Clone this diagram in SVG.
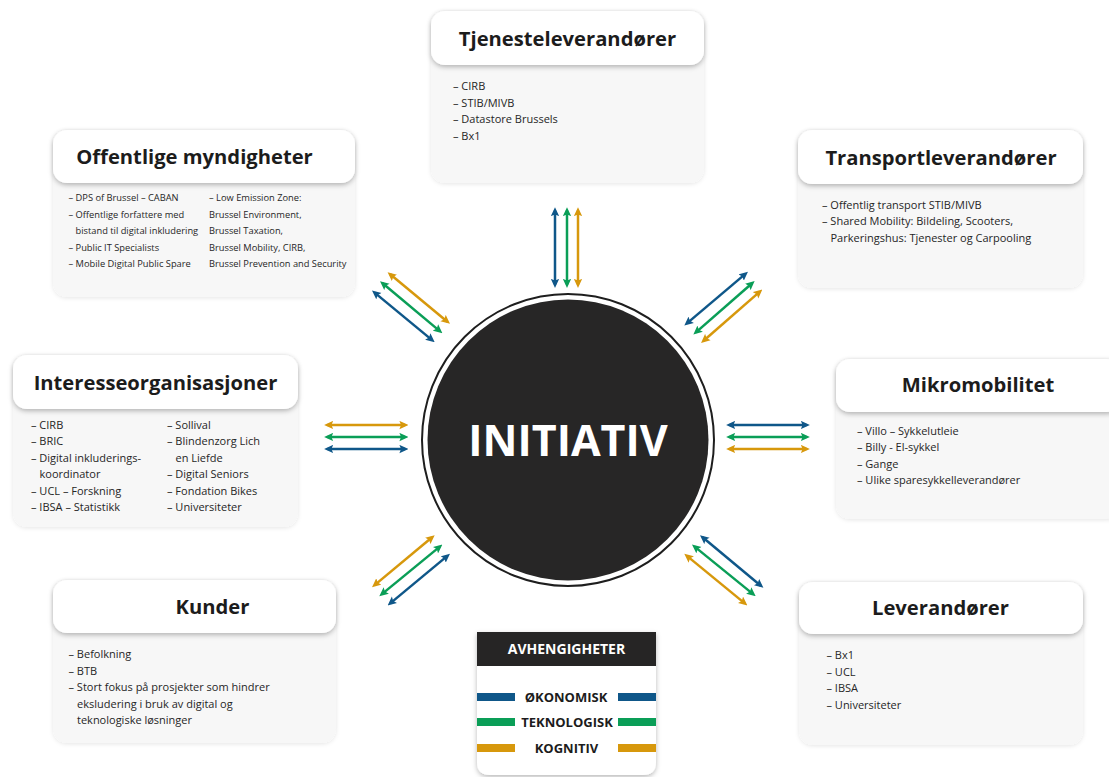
<svg xmlns="http://www.w3.org/2000/svg" width="1109" height="777" viewBox="0 0 1109 777">
  <defs>
    <filter id="hdrShadow" x="-10%" y="-30%" width="120%" height="170%">
      <feDropShadow dx="0" dy="2" stdDeviation="2.5" flood-color="#000" flood-opacity="0.28"/>
    </filter>
    <filter id="cardShadow" x="-10%" y="-10%" width="120%" height="120%">
      <feDropShadow dx="0" dy="1" stdDeviation="2" flood-color="#000" flood-opacity="0.10"/>
    </filter>
    <marker id="ahBlue" viewBox="0 0 8 8" refX="5" refY="4" markerWidth="9" markerHeight="9" markerUnits="userSpaceOnUse" orient="auto-start-reverse">
      <path d="M0,0.3 L8,4 L0,7.7 L1.5,4 z" fill="#0f5789"/>
    </marker>
    <marker id="ahGreen" viewBox="0 0 8 8" refX="5" refY="4" markerWidth="9" markerHeight="9" markerUnits="userSpaceOnUse" orient="auto-start-reverse">
      <path d="M0,0.3 L8,4 L0,7.7 L1.5,4 z" fill="#0a9e57"/>
    </marker>
    <marker id="ahGold" viewBox="0 0 8 8" refX="5" refY="4" markerWidth="9" markerHeight="9" markerUnits="userSpaceOnUse" orient="auto-start-reverse">
      <path d="M0,0.3 L8,4 L0,7.7 L1.5,4 z" fill="#d7980c"/>
    </marker>
  </defs>
  <style>
    .body { fill: #f7f7f7; filter: url(#cardShadow); }
    .hdr { fill: #ffffff; filter: url(#hdrShadow); }
    .title { font-family: "Open Sans", "Liberation Sans", sans-serif; font-weight: 700; font-size: 20.2px; fill: #1c1c1c; }
    .item { font-family: "Open Sans", "Liberation Sans", sans-serif; font-size: 11px; fill: #262626; }
    .small { font-size: 9.3px; }
    .blue { stroke: #0f5789; marker-start: url(#ahBlue); marker-end: url(#ahBlue); }
    .green { stroke: #0a9e57; marker-start: url(#ahGreen); marker-end: url(#ahGreen); }
    .gold { stroke: #d7980c; marker-start: url(#ahGold); marker-end: url(#ahGold); }
    #connectors line { stroke-width: 2.5; fill: none; }
    .leg { font-family: "Open Sans", "Liberation Sans", sans-serif; font-weight: 700; font-size: 13px; fill: #1c1c1c; text-anchor: middle; }
  </style>

  <rect width="1109" height="777" fill="#ffffff"/>

  <!-- central hub -->
  <g id="initiativ">
    <circle cx="568" cy="440" r="146" fill="none" stroke="#1e1e1e" stroke-width="2"/>
    <circle cx="568" cy="440" r="140.5" fill="#272626"/>
    <text x="568" y="456" text-anchor="middle" font-family="Open Sans, Liberation Sans, sans-serif" font-weight="700" font-size="43" fill="#ffffff">INITIATIV</text>
  </g>

  <!-- Tjenesteleverandører -->
  <g id="tjenesteleverandorer">
    <rect class="body" x="431" y="11" width="273" height="172" rx="14"/>
    <rect class="hdr" x="431" y="11" width="273" height="54" rx="14"/>
    <text class="title" x="567.5" y="45.5" text-anchor="middle">Tjenesteleverandører</text>
    <text class="item" x="453" y="90">– CIRB</text>
    <text class="item" x="453" y="106.5">– STIB/MIVB</text>
    <text class="item" x="453" y="123">– Datastore Brussels</text>
    <text class="item" x="453" y="139.5">– Bx1</text>
  </g>

  <!-- Offentlige myndigheter -->
  <g id="offentlige-myndigheter">
    <rect class="body" x="53" y="130" width="302" height="167" rx="14"/>
    <rect class="hdr" x="53" y="130" width="302" height="53" rx="14"/>
    <text class="title" x="194.5" y="163.5" text-anchor="middle">Offentlige myndigheter</text>
    <text class="item small" x="68.5" y="201">– DPS of Brussel – CABAN</text>
    <text class="item small" x="68.5" y="217.5">– Offentlige forfattere med</text>
    <text class="item small" x="75.5" y="234">bistand til digital inkludering</text>
    <text class="item small" x="68.5" y="250.5">– Public IT Specialists</text>
    <text class="item small" x="68.5" y="267">– Mobile Digital Public Spare</text>
    <text class="item small" x="209" y="201">– Low Emission Zone:</text>
    <text class="item small" x="209" y="217.5">Brussel Environment,</text>
    <text class="item small" x="209" y="234">Brussel Taxation,</text>
    <text class="item small" x="209" y="250.5">Brussel Mobility, CIRB,</text>
    <text class="item small" x="209" y="267">Brussel Prevention and Security</text>
  </g>

  <!-- Transportleverandører -->
  <g id="transportleverandorer">
    <rect class="body" x="798" y="130" width="285" height="158" rx="14"/>
    <rect class="hdr" x="798" y="130" width="285" height="54" rx="14"/>
    <text class="title" x="941" y="165" text-anchor="middle">Transportleverandører</text>
    <text class="item" x="822" y="208.5">– Offentlig transport STIB/MIVB</text>
    <text class="item" x="822" y="225">– Shared Mobility: Bildeling, Scooters,</text>
    <text class="item" x="830.5" y="241.5">Parkeringshus: Tjenester og Carpooling</text>
  </g>

  <!-- Interesseorganisasjoner -->
  <g id="interesseorganisasjoner">
    <rect class="body" x="13" y="355" width="285" height="172" rx="14"/>
    <rect class="hdr" x="13" y="355" width="285" height="54" rx="14"/>
    <text class="title" x="155.5" y="389.5" text-anchor="middle">Interesseorganisasjoner</text>
    <text class="item" x="31" y="429">– CIRB</text>
    <text class="item" x="31" y="445.4">– BRIC</text>
    <text class="item" x="31" y="461.8">– Digital inkluderings-</text>
    <text class="item" x="39.5" y="478.2">koordinator</text>
    <text class="item" x="31" y="494.6">– UCL – Forskning</text>
    <text class="item" x="31" y="511">– IBSA – Statistikk</text>
    <text class="item" x="167" y="429">– Sollival</text>
    <text class="item" x="167" y="445.4">– Blindenzorg Lich</text>
    <text class="item" x="175.5" y="461.8">en Liefde</text>
    <text class="item" x="167" y="478.2">– Digital Seniors</text>
    <text class="item" x="167" y="494.6">– Fondation Bikes</text>
    <text class="item" x="167" y="511">– Universiteter</text>
  </g>

  <!-- Mikromobilitet -->
  <g id="mikromobilitet">
    <rect class="body" x="836" y="359" width="285" height="160" rx="14"/>
    <rect class="hdr" x="836" y="359" width="285" height="53" rx="14"/>
    <text class="title" x="978" y="392" text-anchor="middle">Mikromobilitet</text>
    <text class="item" x="857" y="434.5">– Villo – Sykkelutleie</text>
    <text class="item" x="857" y="451">– Billy - El-sykkel</text>
    <text class="item" x="857" y="467.5">– Gange</text>
    <text class="item" x="857" y="484">– Ulike sparesykkelleverandører</text>
  </g>

  <!-- Kunder -->
  <g id="kunder">
    <rect class="body" x="53" y="580" width="283" height="163" rx="14"/>
    <rect class="hdr" x="53" y="580" width="283" height="53" rx="14"/>
    <text class="title" x="212.5" y="614" text-anchor="middle">Kunder</text>
    <text class="item" x="68.5" y="658">– Befolkning</text>
    <text class="item" x="68.5" y="674.5">– BTB</text>
    <text class="item" x="68.5" y="691">– Stort fokus på prosjekter som hindrer</text>
    <text class="item" x="77" y="707.5">eksludering i bruk av digital og</text>
    <text class="item" x="77" y="724">teknologiske løsninger</text>
  </g>

  <!-- Leverandører -->
  <g id="leverandorer">
    <rect class="body" x="799" y="582" width="284" height="163" rx="14"/>
    <rect class="hdr" x="799" y="582" width="284" height="52" rx="14"/>
    <text class="title" x="940.5" y="615" text-anchor="middle">Leverandører</text>
    <text class="item" x="826.5" y="659">– Bx1</text>
    <text class="item" x="826.5" y="675.5">– UCL</text>
    <text class="item" x="826.5" y="692">– IBSA</text>
    <text class="item" x="826.5" y="708.5">– Universiteter</text>
  </g>

  <!-- legend: dependency types -->
  <g id="avhengigheter">
    <path d="M477,632 H656 V762 Q656,775 643,775 H490 Q477,775 477,762 Z" fill="#ffffff" filter="url(#hdrShadow)"/>
    <rect x="477" y="632" width="179" height="34" fill="#262525"/>
    <text x="566.5" y="654" text-anchor="middle" font-family="Open Sans, Liberation Sans, sans-serif" font-weight="700" font-size="14" fill="#ffffff">AVHENGIGHETER</text>
    <rect x="477" y="693" width="38" height="8" fill="#0f5789"/>
    <rect x="618" y="693" width="38" height="8" fill="#0f5789"/>
    <text class="leg" x="566" y="701.5">ØKONOMISK</text>
    <rect x="477" y="718" width="38" height="8" fill="#0a9e57"/>
    <rect x="618" y="718" width="38" height="8" fill="#0a9e57"/>
    <text class="leg" x="567" y="726.5">TEKNOLOGISK</text>
    <rect x="477" y="744" width="38" height="8" fill="#d7980c"/>
    <rect x="618" y="744" width="38" height="8" fill="#d7980c"/>
    <text class="leg" x="566.5" y="752.5">KOGNITIV</text>
  </g>

  <!-- two-way dependency arrows between hub and groups -->
  <g id="connectors">
    <!-- top -->
    <line class="blue" x1="555" y1="210.5" x2="555" y2="284.5"/>
    <line class="green" x1="567" y1="210.5" x2="567" y2="284.5"/>
    <line class="gold" x1="578" y1="210.5" x2="578" y2="284.5"/>
    <!-- upper left -->
    <line class="blue" x1="374.6" y1="292.6" x2="432.1" y2="340.1"/>
    <line class="green" x1="382.6" y1="283.3" x2="439.8" y2="331.1"/>
    <line class="gold" x1="390.2" y1="274.3" x2="447.4" y2="321.7"/>
    <!-- upper right -->
    <line class="blue" x1="686.9" y1="323.4" x2="745.4" y2="273.9"/>
    <line class="green" x1="695.9" y1="332.4" x2="752.1" y2="283.3"/>
    <line class="gold" x1="703.6" y1="340.7" x2="759.8" y2="291.6"/>
    <!-- left -->
    <line class="gold" x1="327.5" y1="425" x2="405" y2="425"/>
    <line class="green" x1="327.5" y1="437" x2="405" y2="437"/>
    <line class="blue" x1="327.5" y1="449" x2="405" y2="449"/>
    <!-- right -->
    <line class="blue" x1="729.5" y1="425" x2="806.5" y2="425"/>
    <line class="green" x1="729.5" y1="437" x2="806.5" y2="437"/>
    <line class="gold" x1="729.5" y1="449" x2="806.5" y2="449"/>
    <!-- lower left -->
    <line class="gold" x1="374.6" y1="585.1" x2="432.1" y2="537.3"/>
    <line class="green" x1="381.9" y1="594.1" x2="439.8" y2="546.6"/>
    <line class="blue" x1="390.2" y1="603.4" x2="447.4" y2="555.9"/>
    <!-- lower right -->
    <line class="blue" x1="702.6" y1="537.3" x2="760.8" y2="585.7"/>
    <line class="green" x1="694.6" y1="546.6" x2="753.1" y2="594.1"/>
    <line class="gold" x1="686.9" y1="555.9" x2="744.8" y2="603.4"/>
  </g>
</svg>
